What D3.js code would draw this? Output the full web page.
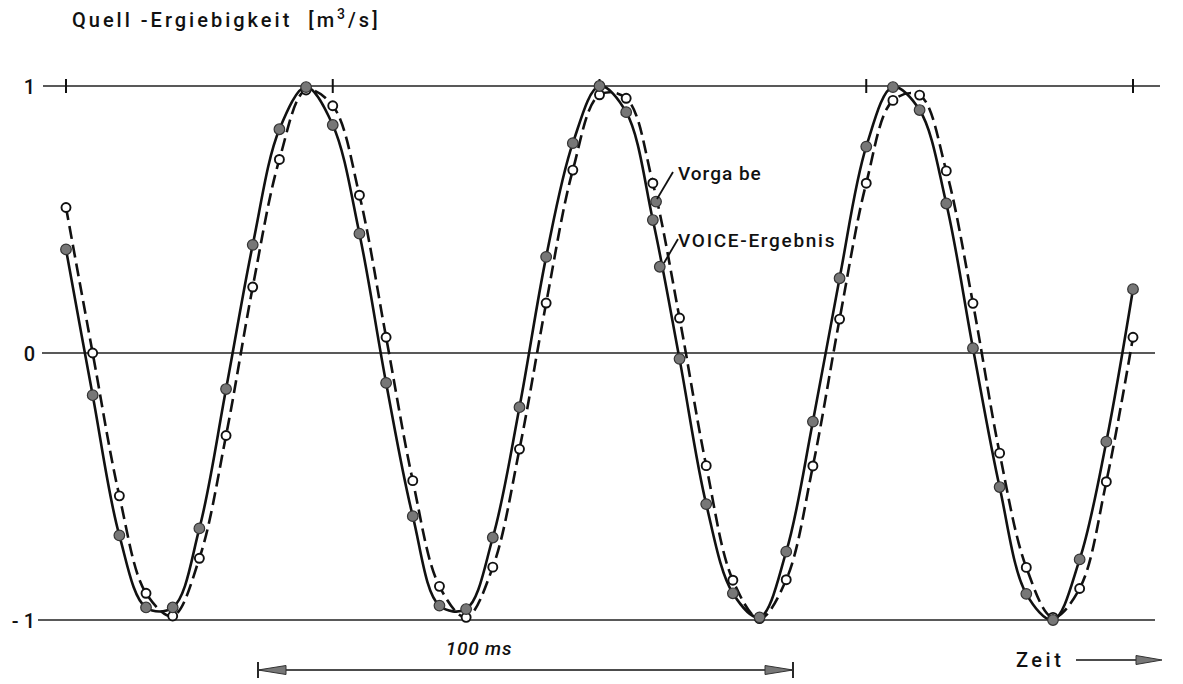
<!DOCTYPE html>
<html>
<head>
<meta charset="utf-8">
<script src="https://cdn.jsdelivr.net/npm/d3@7"></script>
<style>
  html, body { margin: 0; padding: 0; background: #fff; }
  svg { display: block; }
  text { font-family: Roboto, "Liberation Sans", Arial, sans-serif; font-weight: 500; fill: #111; }
</style>
</head>
<body>
<svg id="chart" width="1183" height="684"></svg>
<script>
// Sample times in ms (one sample every 5 ms)
const times = [0,5,10,15,20,25,30,35,40,45,50,55,60,65,70,75,80,85,90,95,100,
               105,110,115,120,125,130,135,140,145,150,155,160,165,170,175,180,185,190,195,200];

// Prescribed source strength (solid line, filled markers) in m^3/s
const vorgabe = [0.388,-0.158,-0.683,-0.953,-0.953,-0.657,-0.135,0.405,0.838,0.996,0.854,
                 0.447,-0.112,-0.611,-0.946,-0.959,-0.691,-0.203,0.360,0.786,1.0,
                 0.902,0.498,-0.022,-0.566,-0.900,-0.990,-0.744,-0.257,0.280,0.773,
                 0.996,0.910,0.560,0.018,-0.502,-0.902,-1.0,-0.773,-0.332,0.239];

// VOICE result (dashed line, open markers) in m^3/s
const voice = [0.545,0.0,-0.535,-0.900,-0.985,-0.769,-0.309,0.247,0.725,0.985,0.926,
               0.591,0.059,-0.478,-0.874,-0.990,-0.802,-0.360,0.187,0.685,0.967,
               0.954,0.636,0.131,-0.422,-0.851,-0.995,-0.849,-0.423,0.127,0.636,
               0.946,0.966,0.682,0.186,-0.375,-0.803,-0.990,-0.882,-0.482,0.059];

// Additional filled markers near the curve labels [t, value]
const extraMarks = [[110.6, 0.567], [111.3, 0.323]];

// Value axis ticks and their printed labels
const yTicks = [1, 0, -1];
const yTickLabels = ["1", "0", "- 1"];

// Time ticks along the upper reference line (ms)
const xTicks = [0, 50, 100, 150, 200];

const svg = d3.select("#chart");

const x = d3.scaleLinear().domain([0, 200]).range([66, 1133]);
const y = d3.scaleLinear().domain([-1, 1]).range([620, 86]);

const ink = "#111";

// Horizontal reference lines at +1, 0, -1
const refExtent = { "1": [43, 1160], "0": [42, 1155], "-1": [38, 1155] };
svg.append("g").selectAll("line")
  .data(yTicks)
  .join("line")
  .attr("x1", d => refExtent[d][0])
  .attr("x2", d => refExtent[d][1])
  .attr("y1", d => y(d))
  .attr("y2", d => y(d))
  .attr("stroke", "#222")
  .attr("stroke-width", 1.3);

// Small vertical time ticks on the upper line
svg.append("g").selectAll("line")
  .data(xTicks)
  .join("line")
  .attr("x1", d => x(d)).attr("x2", d => x(d))
  .attr("y1", y(1) - 7).attr("y2", y(1) + 7)
  .attr("stroke", ink)
  .attr("stroke-width", 2);

// Value labels on the left
const yAxis = d3.axisLeft(y)
  .tickValues(yTicks)
  .tickSize(0)
  .tickPadding(0)
  .tickFormat((d, i) => yTickLabels[i]);
const gy = svg.append("g").attr("transform", "translate(35,0)").call(yAxis);
gy.select(".domain").remove();
gy.selectAll("text")
  .attr("font-size", 20)
  .attr("font-family", "Roboto, 'Liberation Sans', Arial, sans-serif")
  .attr("font-weight", 500)
  .attr("fill", ink)
  .attr("dy", "0.36em");

// Curves
const line = d3.line()
  .x(d => x(d[0]))
  .y(d => y(d[1]))
  .curve(d3.curveCatmullRom.alpha(0.5));

const vorgabePts = times.map((t, i) => [t, vorgabe[i]]);
const voicePts = times.map((t, i) => [t, voice[i]]);

svg.append("path")
  .datum(voicePts)
  .attr("d", line)
  .attr("fill", "none")
  .attr("stroke", ink)
  .attr("stroke-width", 2.6)
  .attr("stroke-dasharray", "13 6");

svg.append("path")
  .datum(vorgabePts)
  .attr("d", line)
  .attr("fill", "none")
  .attr("stroke", ink)
  .attr("stroke-width", 2.6);

// Open markers for the VOICE result
svg.append("g").selectAll("circle")
  .data(voicePts)
  .join("circle")
  .attr("cx", d => x(d[0]))
  .attr("cy", d => y(d[1]))
  .attr("r", 4.5)
  .attr("fill", "#fff")
  .attr("stroke", ink)
  .attr("stroke-width", 1.9);

// Filled markers for the prescribed values
svg.append("g").selectAll("circle")
  .data(vorgabePts.concat(extraMarks))
  .join("circle")
  .attr("cx", d => x(d[0]))
  .attr("cy", d => y(d[1]))
  .attr("r", 5.3)
  .attr("fill", "#777")
  .attr("stroke", "#333")
  .attr("stroke-width", 1.2);

// Axis title
const title = svg.append("text")
  .attr("x", 72).attr("y", 27)
  .attr("font-size", 20)
  .attr("letter-spacing", 3)
  .attr("xml:space", "preserve");
title.append("tspan").text("Quell -Ergiebigkeit  [m");
title.append("tspan").attr("dy", -8).attr("font-size", 14).text("3");
title.append("tspan").attr("dy", 8).text("/s]");

// Curve labels with leader lines
const labels = [
  { text: "Vorga be", tx: 678, ty: 180, ls: 1, x1: 673, y1: 172, x2: 657, y2: 199 },
  { text: "VOICE-Ergebnis", tx: 678, ty: 247, ls: 1.7, x1: 678, y1: 239, x2: 664, y2: 263 }
];
svg.append("g").selectAll("line")
  .data(labels)
  .join("line")
  .attr("x1", d => d.x1).attr("y1", d => d.y1)
  .attr("x2", d => d.x2).attr("y2", d => d.y2)
  .attr("stroke", ink).attr("stroke-width", 1.8);
svg.append("g").selectAll("text")
  .data(labels)
  .join("text")
  .attr("x", d => d.tx).attr("y", d => d.ty)
  .attr("font-size", 19)
  .attr("letter-spacing", d => d.ls)
  .attr("xml:space", "preserve")
  .text(d => d.text);

// 100 ms scale bar
const barY = 670;
const bar = svg.append("g");
const x0 = 258, x1 = 793;
bar.append("line").attr("x1", x0).attr("x2", x1).attr("y1", barY).attr("y2", barY)
  .attr("stroke", ink).attr("stroke-width", 1.4);
[x0, x1].forEach(xx => {
  bar.append("line").attr("x1", xx).attr("x2", xx).attr("y1", barY - 8).attr("y2", barY + 8)
    .attr("stroke", ink).attr("stroke-width", 1.8);
});
bar.append("path")
  .attr("d", `M${x0},${barY} L${x0 + 28},${barY - 4.5} L${x0 + 28},${barY + 4.5} Z`)
  .attr("fill", "#777").attr("stroke", "#333").attr("stroke-width", 1);
bar.append("path")
  .attr("d", `M${x1},${barY} L${x1 - 28},${barY - 4.5} L${x1 - 28},${barY + 4.5} Z`)
  .attr("fill", "#777").attr("stroke", "#333").attr("stroke-width", 1);
svg.append("text")
  .attr("x", 479).attr("y", 655)
  .attr("text-anchor", "middle")
  .attr("font-size", 19)
  .attr("font-style", "italic")
  .attr("font-weight", 400)
  .attr("letter-spacing", 0.8)
  .text("100 ms");

// Time direction arrow
const ay = 660;
svg.append("text")
  .attr("x", 1016).attr("y", 667)
  .attr("font-size", 20)
  .attr("font-weight", 700)
  .attr("letter-spacing", 3.5)
  .text("Zeit");
svg.append("line").attr("x1", 1076).attr("x2", 1140).attr("y1", ay).attr("y2", ay)
  .attr("stroke", ink).attr("stroke-width", 1.4);
svg.append("path")
  .attr("d", `M1162,${ay} L1136,${ay - 4.5} L1136,${ay + 4.5} Z`)
  .attr("fill", "#777").attr("stroke", "#333").attr("stroke-width", 1);
</script>
</body>
</html>
